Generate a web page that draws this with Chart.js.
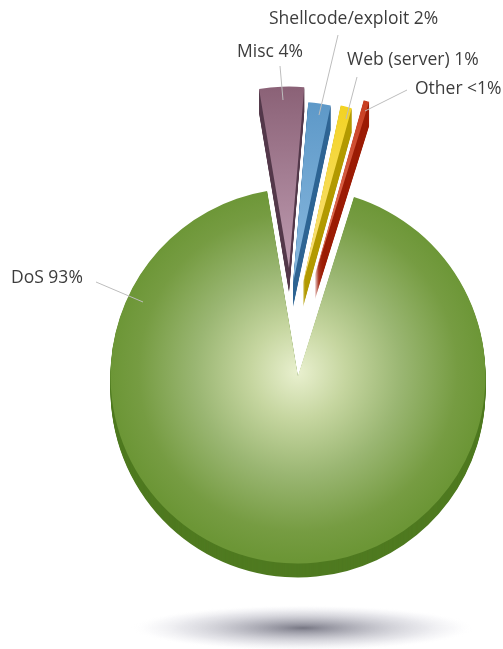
<!DOCTYPE html>
<html>
<head>
<meta charset="utf-8">
<style>
  html, body { margin: 0; background: #fff; }
  canvas { display: block; }
</style>
<script src="https://cdn.jsdelivr.net/npm/chart.js@4"></script>
</head>
<body>
<canvas id="pie" width="503" height="649"></canvas>
<script>
const categories = ['DoS', 'Misc', 'Shellcode/exploit', 'Web (server)', 'Other'];
const shares = [93, 4, 2, 1, 0.5];
const shareLabels = ['93%', '4%', '2%', '1%', '<1%'];

// layout of the pie on the canvas
const PIE_X = 298, PIE_Y = 376, PIE_R = 187.5;
const FAN_R = 181.5;
const START_DEG = 17.37;

// how far each wedge is pulled out of the pie, and how thick it is
const pull = [[0, 0], [-9, -108], [-5, -93], [5, -93], [17, -101]];
const depth = [14, 24, 24, 24, 24];

const faceStops = [
  null,
  ['#8b6277', '#c4a2b7'],
  ['#5a96c6', '#8bbae0'],
  ['#f2d118', '#fbe48c'],
  ['#c63a1c', '#e8836a']
];
const sideColors = ['#4f7a20', '#553a4c', '#2f6594', '#b39a00', '#9c1d06'];

function faceFill(ctx) {
  const g2d = ctx.chart.ctx;
  const i = ctx.dataIndex;
  if (i === 0) {
    const g = g2d.createRadialGradient(PIE_X, 372, 0, PIE_X, 372, PIE_R);
    g.addColorStop(0, '#e9f0cf');
    g.addColorStop(0.25, '#c6d6a0');
    g.addColorStop(0.55, '#9ab672');
    g.addColorStop(0.85, '#769c42');
    g.addColorStop(1, '#6c9636');
    return g;
  }
  const g = g2d.createLinearGradient(0, 88, 0, 290);
  g.addColorStop(0, faceStops[i][0]);
  g.addColorStop(1, faceStops[i][1]);
  return g;
}

// labels and their leader lines
const labelPlaces = [
  { x: 11, y: 278, from: [96, 282], to: [143, 302] },
  { x: 237, y: 52, from: [280, 66], to: [283, 100] },
  { x: 269, y: 19, from: [338, 35], to: [319, 115] },
  { x: 347, y: 60, from: [357, 77], to: [346, 119] },
  { x: 415, y: 89, from: [407, 90], to: [365, 111] }
];

const fanOut = {
  id: 'fanOut',
  afterDatasetsUpdate(chart) {
    chart.getDatasetMeta(0).data.forEach((arc, i) => {
      arc.x += pull[i][0];
      arc.y += pull[i][1];
      if (i > 0) arc.outerRadius = FAN_R;
    });
  }
};

// ground shadow, under everything else
const groundShadow = {
  id: 'groundShadow',
  beforeDatasetsDraw(chart) {
    const ctx = chart.ctx;
    ctx.save();
    ctx.translate(303, 628);
    ctx.scale(1, 23 / 172);
    const g = ctx.createRadialGradient(0, 0, 0, 0, 0, 172);
    g.addColorStop(0, 'rgba(118,118,130,1)');
    g.addColorStop(0.12, 'rgba(140,140,152,0.95)');
    g.addColorStop(0.4, 'rgba(178,178,188,0.8)');
    g.addColorStop(0.7, 'rgba(212,212,220,0.55)');
    g.addColorStop(0.88, 'rgba(235,235,240,0.3)');
    g.addColorStop(1, 'rgba(255,255,255,0)');
    ctx.fillStyle = g;
    ctx.beginPath();
    ctx.arc(0, 0, 172, 0, Math.PI * 2);
    ctx.fill();
    ctx.restore();
  }
};

// sweep every wedge straight down to get its side wall
const extrude = {
  id: 'extrude',
  beforeDatasetsDraw(chart) {
    const ctx = chart.ctx;
    chart.getDatasetMeta(0).data.forEach((arc, i) => {
      const opts = arc.options;
      arc.options = Object.assign({}, opts, { backgroundColor: sideColors[i] });
      for (let d = depth[i]; d > 0; d--) {
        ctx.save();
        ctx.translate(0, d);
        arc.draw(ctx);
        ctx.restore();
      }
      arc.options = opts;
    });
  }
};

const callouts = {
  id: 'callouts',
  afterDatasetsDraw(chart) {
    const ctx = chart.ctx;
    ctx.save();
    ctx.strokeStyle = '#bdbdbd';
    ctx.lineWidth = 1;
    ctx.fillStyle = '#3d3d3d';
    ctx.font = '17.5px "Open Sans"';
    ctx.textBaseline = 'middle';
    categories.forEach((name, i) => {
      const p = labelPlaces[i];
      ctx.beginPath();
      ctx.moveTo(p.from[0], p.from[1]);
      ctx.lineTo(p.to[0], p.to[1]);
      ctx.stroke();
      ctx.fillText(name + ' ' + shareLabels[i], p.x, p.y);
    });
    ctx.restore();
  }
};

new Chart(document.getElementById('pie'), {
  type: 'pie',
  data: {
    labels: categories,
    datasets: [{
      data: shares,
      backgroundColor: faceFill,
      borderWidth: 0
    }]
  },
  options: {
    responsive: false,
    animation: false,
    events: [],
    rotation: START_DEG,
    radius: PIE_R,
    layout: { padding: { left: PIE_X * 2 - 503, top: PIE_Y * 2 - 649 } },
    plugins: { legend: { display: false }, tooltip: { enabled: false } }
  },
  plugins: [fanOut, groundShadow, extrude, callouts]
});
</script>
</body>
</html>
